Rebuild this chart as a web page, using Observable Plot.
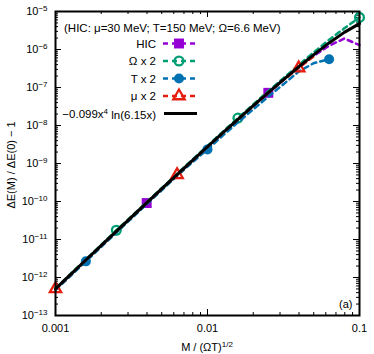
<!DOCTYPE html>
<html><head><meta charset="utf-8">
<script src="https://cdn.jsdelivr.net/npm/d3@7"></script>
<script src="https://cdn.jsdelivr.net/npm/@observablehq/plot@0.6"></script>
<style>body{margin:0;background:#fff} svg{display:block}</style>
</head><body><div id="chart"></div>
<script>
// x = M / (ΩT)^1/2 sample points (0.1-decade grid)
const xGrid = [0.001, 0.001259, 0.001585, 0.001995, 0.002512, 0.003162, 0.003981, 0.005012, 0.00631, 0.007943,
  0.01, 0.01259, 0.01585, 0.01995, 0.02512, 0.03162, 0.03981, 0.05012, 0.0631, 0.07943, 0.1];
// series values
const hicY = [5.0e-13, 1.2e-12, 2.87e-12, 6.85e-12, 1.63e-11, 3.87e-11, 9.1e-11, 2.15e-10, 5.05e-10, 1.18e-9,
  2.73e-9, 6.3e-9, 1.44e-8, 3.25e-8, 7.25e-8, 1.6e-7, 3.4e-7, 6.9e-7, 1.25e-6, 1.95e-6, 1.3e-6];
const omegaY = [5.2e-13, 1.26e-12, 3.0e-12, 7.2e-12, 1.75e-11, 4.1e-11, 9.7e-11, 2.28e-10, 5.4e-10, 1.26e-9,
  2.93e-9, 6.8e-9, 1.57e-8, 3.56e-8, 8.0e-8, 1.77e-7, 3.9e-7, 8.5e-7, 1.8e-6, 3.6e-6, 7.0e-6];
const tempY = [4.65e-13, 1.11e-12, 2.66e-12, 6.35e-12, 1.51e-11, 3.59e-11, 8.5e-11, 2.0e-10, 4.7e-10, 1.07e-9,
  2.35e-9, 5.4e-9, 1.21e-8, 2.63e-8, 5.75e-8, 1.22e-7, 2.62e-7, 4.4e-7, 5.55e-7];
const muY = [5.0e-13, 1.2e-12, 2.88e-12, 6.88e-12, 1.64e-11, 3.89e-11, 9.2e-11, 2.16e-10, 5.05e-10, 1.18e-9,
  2.74e-9, 6.3e-9, 1.44e-8, 3.25e-8, 7.2e-8, 1.57e-7, 3.25e-7, 6.7e-7];
const fitY = [5.04e-13, 1.21e-12, 2.89e-12, 6.90e-12, 1.64e-11, 3.90e-11, 9.23e-11, 2.17e-10, 5.10e-10, 1.19e-9,
  2.76e-9, 6.36e-9, 1.45e-8, 3.29e-8, 7.36e-8, 1.62e-7, 3.50e-7, 7.35e-7, 1.49e-6, 2.82e-6, 4.81e-6];

const seriesNames = ["HIC", "Ω x 2", "T x 2", "μ x 2"];
const fitLabel = ["−0.099x", "4", " ln(6.15x)"];
const titleText = "(HIC: μ=30 MeV; T=150 MeV; Ω=6.6 MeV)";
const panelLabel = "(a)";
const xTicks = [0.001, 0.01, 0.1];
const xTickLabels = ["0.001", "0.01", "0.1"];
const yTicks = [1e-13, 1e-12, 1e-11, 1e-10, 1e-9, 1e-8, 1e-7, 1e-6, 1e-5];
const yTickLabels = ["10^−13", "10^−12", "10^−11", "10^−10", "10^−9", "10^−8", "10^−7", "10^−6", "10^−5"];
const xLabel = ["M / (ΩT)", "1/2"];
const yLabel = "ΔE(M) / ΔE(0) − 1";

const series = [
  {name: seriesNames[0], y: hicY, color: "#9400D3", symbol: "square", filled: true, r: 5.6, offset: 6},
  {name: seriesNames[1], y: omegaY, color: "#009E73", symbol: "circle", filled: false, r: 4.4, offset: 4},
  {name: seriesNames[2], y: tempY, color: "#0072B2", symbol: "circle", filled: true, r: 5, offset: 2},
  {name: seriesNames[3], y: muY, color: "#E51E10", symbol: "triangle", filled: false, r: 4.2, offset: 0}
];

const rowsOf = (ys) => ys.map((v, i) => ({x: xGrid[i], y: v, i}));

const xMinor = [];
for (const d of [0.001, 0.01]) for (let k = 2; k <= 9; k++) xMinor.push(d * k);
const yMinor = [];
for (let e = -13; e < -5; e++) for (let k = 2; k <= 9; k++) yMinor.push(k * Math.pow(10, e));

const FH = 304, FW = 304;
const marks = [
  Plot.ruleX(xTicks, {insetTop: FH - 6, stroke: "black"}),
  Plot.ruleX(xTicks, {insetBottom: FH - 6, stroke: "black"}),
  Plot.ruleX(xMinor, {insetTop: FH - 3, stroke: "black"}),
  Plot.ruleX(xMinor, {insetBottom: FH - 3, stroke: "black"}),
  Plot.ruleY(yTicks, {insetRight: FW - 6, stroke: "black"}),
  Plot.ruleY(yTicks, {insetLeft: FW - 6, stroke: "black"}),
  Plot.ruleY(yMinor, {insetRight: FW - 3, stroke: "black"}),
  Plot.ruleY(yMinor, {insetLeft: FW - 3, stroke: "black"}),
  Plot.axisX(xTicks, {tickSize: 0, tickPadding: 9, tickFormat: d => xTickLabels[xTicks.indexOf(d)], label: null, fontSize: 11}),
  Plot.axisY(yTicks, {tickSize: 0, tickPadding: 8, tickFormat: d => yTickLabels[yTicks.indexOf(d)], label: null, fontSize: 11})
];
for (const s of series) {
  const rows = rowsOf(s.y);
  marks.push(Plot.line(rows, {x: "x", y: "y", stroke: s.color, strokeWidth: 2.5, strokeDasharray: "5,4"}));
  marks.push(Plot.dot(rows.filter(d => d.i % 8 === s.offset), {
    x: "x", y: "y", symbol: s.symbol, r: s.r,
    fill: s.filled ? s.color : "none", stroke: s.filled ? "none" : s.color, strokeWidth: s.filled ? 0 : 2.3
  }));
}
marks.push(Plot.line(rowsOf(fitY), {x: "x", y: "y", stroke: "black", strokeWidth: 3}));
marks.push(Plot.frame({stroke: "black", strokeWidth: 2}));
marks.push(Plot.text([panelLabel], {frameAnchor: "bottom-right", text: d => d, dx: -7, dy: -8, fontSize: 11, textAnchor: "end"}));

const plot = Plot.plot({
  width: 374, height: 354,
  marginLeft: 55, marginRight: 15, marginTop: 11, marginBottom: 39,
  x: {type: "log", domain: [0.001, 0.1]},
  y: {type: "log", domain: [1e-13, 1e-5]},
  style: {fontFamily: "'Liberation Sans', Arial, Helvetica, sans-serif", fontSize: "11px", color: "#000", background: "#fff"},
  marks
});

const svg = d3.select(plot);
// superscripted y tick labels
svg.selectAll('g[aria-label="y-axis tick label"] text').each(function() {
  const t = d3.select(this);
  const parts = t.text().split("^");
  t.text("");
  t.append("tspan").text(parts[0]);
  t.append("tspan").attr("dy", "-0.5em").attr("font-size", "8px").text(parts[1]);
});

const font = "'Liberation Sans', Arial, Helvetica, sans-serif";
// x label
const xl = svg.append("text").attr("x", 207).attr("y", 351).attr("text-anchor", "middle")
  .attr("font-family", font).attr("font-size", 11).attr("fill", "black");
xl.append("tspan").text(xLabel[0]);
xl.append("tspan").attr("dy", "-0.5em").attr("font-size", "8px").text(xLabel[1]);
// y label
svg.append("text").attr("transform", "translate(15,165) rotate(-90)").attr("text-anchor", "middle")
  .attr("font-family", font).attr("font-size", 11).attr("fill", "black").text(yLabel);

// legend
const lg = svg.append("g").attr("font-family", font).attr("font-size", 11.5).attr("fill", "black");
lg.append("text").attr("x", 64).attr("y", 31.5).attr("text-anchor", "start").text(titleText);
const rowY = [43.5, 61, 78.5, 96, 113.5];
const symMap = {square: d3.symbolSquare, circle: d3.symbolCircle, triangle: d3.symbolTriangle};
series.forEach((s, k) => {
  const y = rowY[k];
  lg.append("text").attr("x", 156).attr("y", y + 4).attr("text-anchor", "end").text(s.name);
  lg.append("line").attr("x1", 163).attr("x2", 195).attr("y1", y).attr("y2", y)
    .attr("stroke", s.color).attr("stroke-width", 2.5).attr("stroke-dasharray", "5,4");
  lg.append("path").attr("d", d3.symbol(symMap[s.symbol], Math.PI * s.r * s.r)())
    .attr("transform", `translate(179,${y})`)
    .attr("fill", s.filled ? s.color : "none").attr("stroke", s.filled ? "none" : s.color)
    .attr("stroke-width", s.filled ? 0 : 2.3);
});
const ft = lg.append("text").attr("x", 156).attr("y", rowY[4] + 4).attr("text-anchor", "end");
ft.append("tspan").text(fitLabel[0]);
ft.append("tspan").attr("dy", "-0.5em").attr("font-size", "8px").text(fitLabel[1]);
ft.append("tspan").attr("dy", "0.5em").text(fitLabel[2]);
lg.append("line").attr("x1", 164).attr("x2", 197).attr("y1", rowY[4]).attr("y2", rowY[4])
  .attr("stroke", "black").attr("stroke-width", 3);

document.getElementById("chart").appendChild(plot);
</script>
</body></html>
